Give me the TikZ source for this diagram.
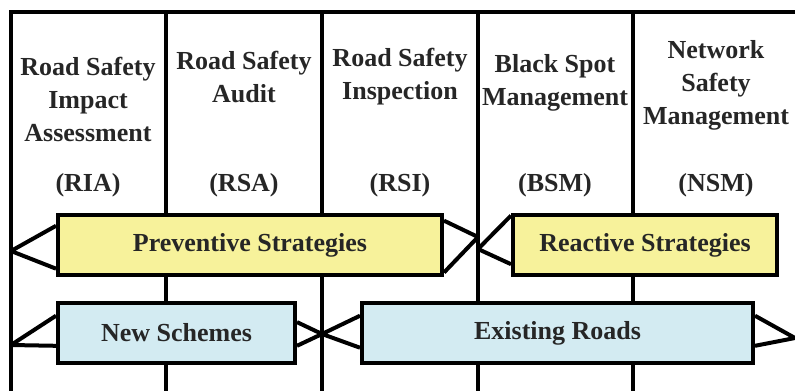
\documentclass[tikz,border=0pt]{standalone}
\usepackage{fontspec}
\setmainfont{Liberation Serif}
\usetikzlibrary{calc}
\definecolor{boxyellow}{RGB}{247,242,155}
\definecolor{boxblue}{RGB}{211,235,242}
\tikzset{
	txt/.style={font=\fontsize{13}{16.5}\selectfont\bfseries, text=black!85},
	head/.style={txt, align=center, inner sep=0pt},
	strat/.style={txt, draw, line width=2pt, fill=boxyellow, minimum height=30pt, inner sep=0pt},
	road/.style={strat, fill=boxblue},
	col/.style={line width=2.2pt},
	tri/.style={line width=2pt, line join=round}
}
\begin{document}
	\begin{tikzpicture}[x=0.5pt, y=-0.5pt]
		\useasboundingbox (0, 0) rectangle (795, 390);
		\foreach \x in {166, 322, 478, 633}
			\draw[col] (\x, 12) -- (\x, 392);
		\draw[col, line join=miter] (11, 392) -- (11, 12) -- (800, 12);
		\node[head] (ria) at (88, 99) {Road Safety\\Impact\\Assessment};
		\node[head] (rsa) at (244, 77) {Road Safety\\Audit};
		\node[head] (rsi) at (400, 77) {Road Safety\\Inspection};
		\node[head] (bsm) at (555, 83) {Black Spot\\Management};
		\node[head] (nsm) at (716, 85) {Network\\Safety\\Management};
		\node[head] (riaab) at (88, 185) {(RIA)};
		\node[head] (rsaab) at (244, 185) {(RSA)};
		\node[head] (rsiab) at (400, 185) {(RSI)};
		\node[head] (bsmab) at (555, 185) {(BSM)};
		\node[head] (nsmab) at (716, 185) {(NSM)};
		\node[strat, minimum width=192pt] (prev) at (250, 245) {Preventive Strategies};
		\node[strat, minimum width=132pt] (react) at (645, 245) {Reactive Strategies};
		\node[road, minimum width=118.5pt] (new) at (176.5, 333) {New Schemes};
		\node[road, minimum width=195.5pt] (exist) at (557.5, 333) {Existing Roads};
		\coordinate (p1) at (11, 251);
		\coordinate (p2) at (478, 237);
		\coordinate (p3) at (478, 249);
		\coordinate (p4) at (11, 345);
		\coordinate (p5) at (322, 334);
		\coordinate (p6) at (795, 338);
		\draw[tri] ($(prev.north west)!0.2!(prev.south west)$) -- (p1) -- ($(prev.north west)!0.87!(prev.south west)$);
		\draw[tri] ($(prev.north east)!0.12!(prev.south east)$) -- (p2) -- ($(prev.north east)!0.93!(prev.south east)$);
		\draw[tri] ($(react.north west)!0.04!(react.south west)$) -- (p3) -- ($(react.north west)!0.8!(react.south west)$);
		\draw[tri] ($(new.north west)!0.23!(new.south west)$) -- (p4) -- ($(new.north west)!0.7!(new.south west)$);
		\draw[tri] ($(new.north east)!0.33!(new.south east)$) -- (p5) -- ($(new.north east)!0.7!(new.south east)$);
		\draw[tri] ($(exist.north west)!0.23!(exist.south west)$) -- (p5) -- ($(exist.north west)!0.73!(exist.south west)$);
		\draw[tri] ($(exist.north east)!0.23!(exist.south east)$) -- (p6) -- ($(exist.north east)!0.7!(exist.south east)$);
	\end{tikzpicture}
\end{document}
